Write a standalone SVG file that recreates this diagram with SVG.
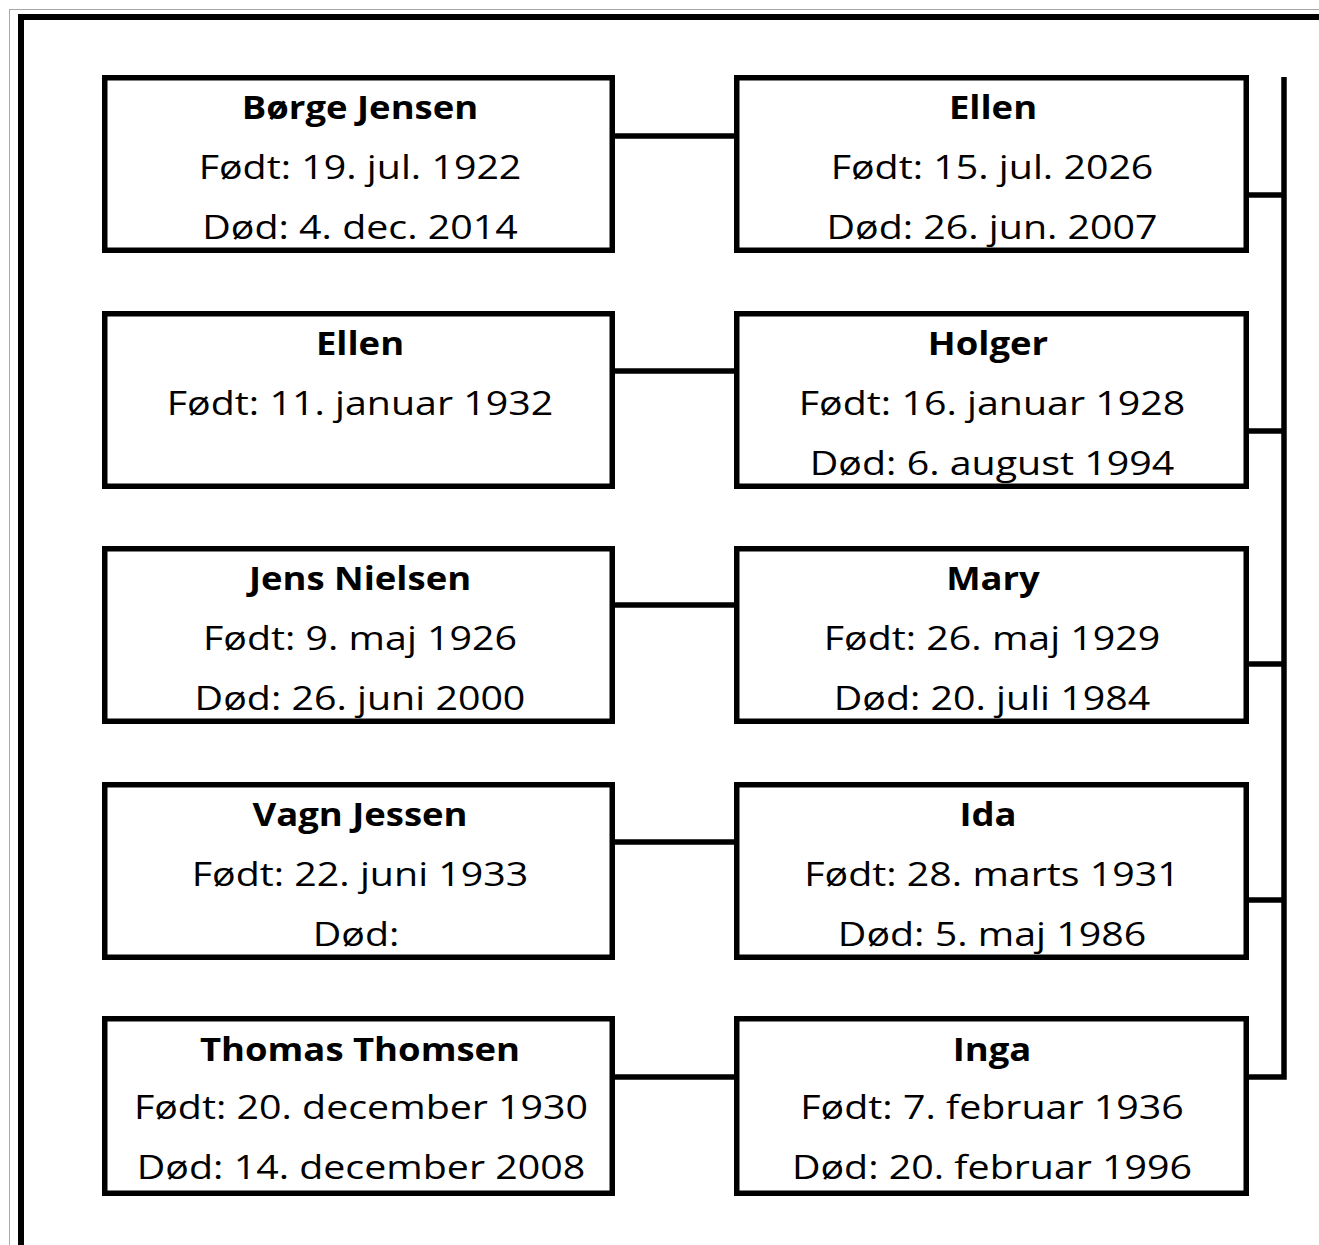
<svg xmlns="http://www.w3.org/2000/svg" width="1319" height="1245" viewBox="0 0 1319 1245">
<style>
.box{fill:#fff;stroke:#000;stroke-width:5.5}
.c{stroke:#000;stroke-width:5.5;fill:none}
text{font-family:"Open Sans","Liberation Sans",sans-serif;font-size:32px;text-anchor:middle;fill:#000}
.b{font-weight:bold}
</style>
<rect width="1319" height="1245" fill="#fff"/>
<g id="frame">
<line x1="9.5" y1="9" x2="9.5" y2="1245" stroke="#a8a8a8" stroke-width="1"/>
<line x1="9" y1="9.5" x2="1319" y2="9.5" stroke="#a8a8a8" stroke-width="1"/>
<line x1="18" y1="17" x2="1319" y2="17" stroke="#000" stroke-width="6"/>
<line x1="21" y1="14" x2="21" y2="1245" stroke="#000" stroke-width="6"/>
</g>
<g id="connectors">
<line class="c" x1="612" y1="136" x2="737" y2="136" stroke-width="5"/>
<line class="c" x1="612" y1="371" x2="737" y2="371" stroke-width="6.5"/>
<line class="c" x1="612" y1="605" x2="737" y2="605" stroke-width="5"/>
<line class="c" x1="612" y1="842" x2="737" y2="842" stroke-width="5"/>
<line class="c" x1="612" y1="1077" x2="737" y2="1077" stroke-width="6"/>
<line class="c" x1="1246" y1="195" x2="1284" y2="195" stroke-width="5"/>
<line class="c" x1="1246" y1="431" x2="1284" y2="431" stroke-width="5"/>
<line class="c" x1="1246" y1="664" x2="1284" y2="664" stroke-width="5"/>
<line class="c" x1="1246" y1="900" x2="1284" y2="900" stroke-width="5"/>
<polyline class="c" points="1284,77 1284,1077 1246,1077" stroke-width="6.5"/>
</g>
<g id="n1"><rect class="box" x="104.75" y="77.75" width="507.5" height="172.5"/>
<text class="b" transform="translate(360,119) scale(1.14,1)">Børge Jensen</text>
<text transform="translate(360,179) scale(1.23,1)">Født: 19. jul. 1922</text>
<text transform="translate(360,239) scale(1.23,1)">Død: 4. dec. 2014</text></g>
<g id="n2"><rect class="box" x="736.75" y="77.75" width="509.5" height="172.5"/>
<text class="b" transform="translate(993,119) scale(1.14,1)">Ellen</text>
<text transform="translate(992,179) scale(1.23,1)">Født: 15. jul. 2026</text>
<text transform="translate(992,239) scale(1.23,1)">Død: 26. jun. 2007</text></g>
<g id="n3"><rect class="box" x="104.75" y="313.75" width="507.5" height="172.5"/>
<text class="b" transform="translate(360,355) scale(1.14,1)">Ellen</text>
<text transform="translate(360,415) scale(1.23,1)">Født: 11. januar 1932</text></g>
<g id="n4"><rect class="box" x="736.75" y="313.75" width="509.5" height="172.5"/>
<text class="b" transform="translate(988,355) scale(1.14,1)">Holger</text>
<text transform="translate(992,415) scale(1.23,1)">Født: 16. januar 1928</text>
<text transform="translate(992,475) scale(1.23,1)">Død: 6. august 1994</text></g>
<g id="n5"><rect class="box" x="104.75" y="548.75" width="507.5" height="172.5"/>
<text class="b" transform="translate(360,590) scale(1.14,1)">Jens Nielsen</text>
<text transform="translate(360,650) scale(1.23,1)">Født: 9. maj 1926</text>
<text transform="translate(360,710) scale(1.23,1)">Død: 26. juni 2000</text></g>
<g id="n6"><rect class="box" x="736.75" y="548.75" width="509.5" height="172.5"/>
<text class="b" transform="translate(993,590) scale(1.14,1)">Mary</text>
<text transform="translate(992,650) scale(1.23,1)">Født: 26. maj 1929</text>
<text transform="translate(992,710) scale(1.23,1)">Død: 20. juli 1984</text></g>
<g id="n7"><rect class="box" x="104.75" y="784.75" width="507.5" height="172.5"/>
<text class="b" transform="translate(360,826) scale(1.14,1)">Vagn Jessen</text>
<text transform="translate(360,886) scale(1.23,1)">Født: 22. juni 1933</text>
<text transform="translate(356,946) scale(1.23,1)">Død:</text></g>
<g id="n8"><rect class="box" x="736.75" y="784.75" width="509.5" height="172.5"/>
<text class="b" transform="translate(988,826) scale(1.14,1)">Ida</text>
<text transform="translate(992,886) scale(1.23,1)">Født: 28. marts 1931</text>
<text transform="translate(992,946) scale(1.23,1)">Død: 5. maj 1986</text></g>
<g id="n9"><rect class="box" x="104.75" y="1018.75" width="507.5" height="174.5"/>
<text class="b" transform="translate(360,1061) scale(1.14,1)">Thomas Thomsen</text>
<text transform="translate(361,1119) scale(1.23,1)">Født: 20. december 1930</text>
<text transform="translate(361,1179) scale(1.23,1)">Død: 14. december 2008</text></g>
<g id="n10"><rect class="box" x="736.75" y="1018.75" width="509.5" height="174.5"/>
<text class="b" transform="translate(992,1061) scale(1.14,1)">Inga</text>
<text transform="translate(992,1119) scale(1.23,1)">Født: 7. februar 1936</text>
<text transform="translate(992,1179) scale(1.23,1)">Død: 20. februar 1996</text></g>
</svg>
